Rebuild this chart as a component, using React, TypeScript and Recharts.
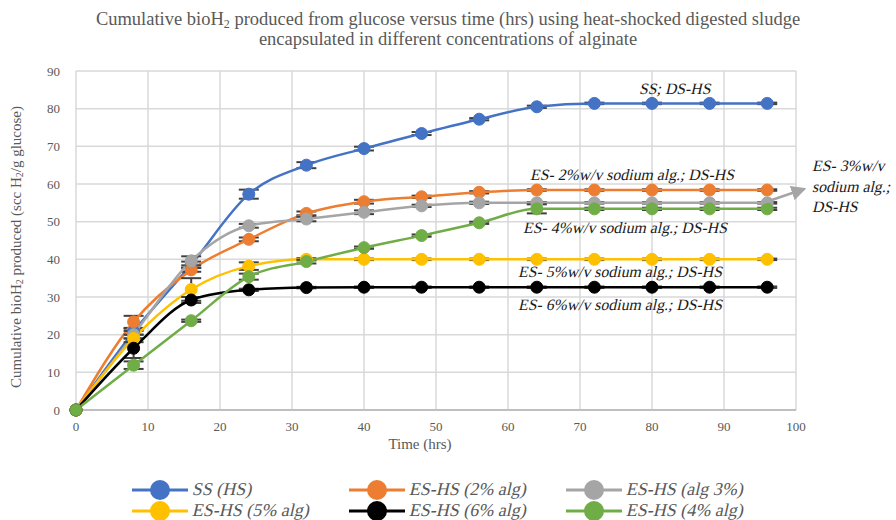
import { LineChart, Line, XAxis, YAxis, CartesianGrid, ErrorBar } from "recharts";

const hours = [0, 8, 16, 24, 32, 40, 48, 56, 64, 72, 80, 88, 96];

const ssHS = [0, 20.8, 38.6, 57.3, 65.0, 69.4, 73.4, 77.2, 80.5, 81.4, 81.4, 81.4, 81.4];
const es2 = [0, 23.4, 37.2, 45.3, 52.2, 55.3, 56.6, 57.8, 58.4, 58.4, 58.4, 58.4, 58.4];
const es3 = [0, 20.0, 39.6, 48.9, 50.7, 52.5, 54.2, 55.0, 55.0, 55.0, 55.0, 55.0, 55.0];
const es5 = [0, 19.0, 32.0, 38.2, 40.0, 40.0, 40.0, 40.0, 40.0, 40.0, 40.0, 40.0, 40.0];
const es6 = [0, 16.4, 29.2, 31.9, 32.5, 32.6, 32.6, 32.6, 32.6, 32.6, 32.6, 32.6, 32.6];
const es4 = [0, 11.9, 23.7, 35.4, 39.4, 43.1, 46.3, 49.7, 53.4, 53.4, 53.4, 53.4, 53.4];

const ssErr = [0, 0.8, 0.8, 1.2, 0.8, 0.5, 0.4, 0.3, 0.3, 0.2, 0.2, 0.2, 0.2];
const es2Err = [0, 1.6, 0.5, 0.5, 0.5, 0.5, 0.3, 0.3, 0.2, 0.2, 0.2, 0.2, 0.2];
const es3Err = [0, 1.0, 1.2, 0.5, 0.6, 0.5, 0.3, 0.3, 0.2, 0.2, 0.2, 0.2, 0.2];
const es5Err = [0, 1.0, 3.0, 1.0, 0.3, 0.2, 0.2, 0.2, 0.2, 0.2, 0.2, 0.2, 0.2];
const es6Err = [0, 2.6, 0.8, 0.3, 0.2, 0.2, 0.2, 0.2, 0.2, 0.2, 0.2, 0.2, 0.2];
const es4Err = [0, 1.0, 0.3, 0.8, 0.5, 0.3, 0.3, 0.3, 1.2, 0.3, 0.3, 0.3, 0.3];

const xTicks = [0, 10, 20, 30, 40, 50, 60, 70, 80, 90, 100];
const yTicks = [0, 10, 20, 30, 40, 50, 60, 70, 80, 90];

const series = [
  { key: "ss", name: "SS (HS)", color: "#4472C4", values: ssHS, err: ssErr },
  { key: "es2", name: "ES-HS (2% alg)", color: "#ED7D31", values: es2, err: es2Err },
  { key: "es3", name: "ES-HS (alg 3%)", color: "#A5A5A5", values: es3, err: es3Err },
  { key: "es5", name: "ES-HS (5% alg)", color: "#FFC000", values: es5, err: es5Err },
  { key: "es6", name: "ES-HS (6% alg)", color: "#000000", values: es6, err: es6Err },
  { key: "es4", name: "ES-HS (4% alg)", color: "#70AD47", values: es4, err: es4Err },
];

const data = hours.map((t, i) => {
  const row: Record<string, number> = { t };
  series.forEach((s) => {
    row[s.key] = s.values[i];
    row[s.key + "Err"] = s.err[i];
  });
  return row;
});

// no serif italic face is installed, so italics are faked with a skew
const FONT = "'Liberation Serif', serif";
const GREY_TEXT = "#595959";
const NOTE_COLOR = "#1a1a1a";

const notes = [
  { text: "SS; DS-HS", x: 639, y: 94 },
  { text: "ES- 2%w/v sodium alg.; DS-HS", x: 530, y: 180 },
  { text: "ES- 4%w/v sodium alg.; DS-HS", x: 523, y: 233 },
  { text: "ES- 5%w/v sodium alg.; DS-HS", x: 518, y: 277 },
  { text: "ES- 6%w/v sodium alg.; DS-HS", x: 518, y: 310 },
  { text: "ES- 3%w/v", x: 812, y: 171 },
  { text: "sodium alg.;", x: 812, y: 192 },
  { text: "DS-HS", x: 812, y: 212 },
];

function Note({ text, x, y }: { text: string; x: number; y: number }) {
  return (
    <text transform={`translate(${x},${y}) skewX(-13)`} fontSize={15.8} fill={NOTE_COLOR} fontFamily={FONT}>
      {text}
    </text>
  );
}

function XTick(props: any) {
  const { x, y, payload } = props;
  return (
    <text x={x} y={y} dy="0.71em" textAnchor="middle" fill={GREY_TEXT} fontSize={13} fontFamily={FONT}>
      {payload.value}
    </text>
  );
}

function YTick(props: any) {
  const { x, y, payload } = props;
  return (
    <text x={x} y={y} dy="0.35em" textAnchor="end" fill={GREY_TEXT} fontSize={13} fontFamily={FONT}>
      {payload.value}
    </text>
  );
}

function LegendItem({ name, color }: { name: string; color: string }) {
  return (
    <div style={{ display: "flex", alignItems: "center", width: 217, height: 21 }}>
      <svg width={58} height={22} style={{ marginRight: 4, flex: "none" }}>
        <line x1={1} y1={11} x2={57} y2={11} stroke={color} strokeWidth={3} />
        <circle cx={29} cy={11} r={10} fill={color} />
      </svg>
      <span style={{ display: "inline-block", transform: "skewX(-13deg)", color: GREY_TEXT, fontSize: 18, whiteSpace: "nowrap", fontFamily: FONT }}>
        {name}
      </span>
    </div>
  );
}

export default function App() {
  return (
    <div style={{ position: "absolute", left: 0, top: 0, width: 896, height: 520, background: "#fff", fontFamily: FONT, overflow: "hidden" }}>
      <div style={{ position: "absolute", left: 0, top: 9, width: 896, textAlign: "center", color: GREY_TEXT, fontSize: 18.5, lineHeight: "20px" }}>
        Cumulative bioH<sub style={{ fontSize: 12, verticalAlign: "-3px", lineHeight: 0 }}>2</sub> produced from glucose versus time (hrs) using heat-shocked digested sludge
        <br />
        encapsulated in different concentrations of alginate
      </div>
      <LineChart width={896} height={520} data={data} margin={{ top: 71, right: 100, bottom: 80, left: 0 }}>
        <CartesianGrid stroke="#D9D9D9" strokeWidth={1.5} />
        <XAxis
          dataKey="t"
          type="number"
          domain={[0, 100]}
          ticks={xTicks}
          height={30}
          tickLine={false}
          axisLine={{ stroke: "#BFBFBF", strokeWidth: 2 }}
          tick={XTick}
          tickMargin={6}
        />
        <YAxis
          type="number"
          domain={[0, 90]}
          ticks={yTicks}
          width={76}
          tickLine={false}
          axisLine={false}
          tick={YTick}
          tickMargin={10}
        />
        {series.map((s) => (
          <Line
            key={s.key}
            dataKey={s.key}
            name={s.name}
            type="monotone"
            stroke={s.color}
            strokeWidth={2.5}
            dot={{ r: 6, fill: s.color, stroke: s.color, strokeWidth: 1 }}
            isAnimationActive={false}
          >
            <ErrorBar dataKey={s.key + "Err"} width={10} stroke="#404040" strokeWidth={2} direction="y" />
          </Line>
        ))}
      </LineChart>
      <svg width={896} height={520} style={{ position: "absolute", left: 0, top: 0, pointerEvents: "none" }}>
        <defs>
          <marker id="arrowHead" markerWidth="6" markerHeight="6" refX="5" refY="3" orient="auto" markerUnits="strokeWidth">
            <path d="M0,0 L6,3 L0,6 Z" fill="#A5A5A5" />
          </marker>
        </defs>
        <text x={18} y={247} transform="rotate(-90 18 247)" textAnchor="middle" dominantBaseline="middle" fill={GREY_TEXT} fontSize={15} fontFamily={FONT}>
          Cumulative bioH<tspan fontSize={10} dy={3}>2</tspan>
          <tspan dy={-3}> produced (scc H</tspan>
          <tspan fontSize={10} dy={3}>2</tspan>
          <tspan dy={-3}>/g glucose)</tspan>
        </text>
        <text x={420} y={449} textAnchor="middle" fill={GREY_TEXT} fontSize={15} fontFamily={FONT}>
          Time (hrs)
        </text>
        {notes.map((n) => (
          <Note key={n.text} text={n.text} x={n.x} y={n.y} />
        ))}
        <line x1={763} y1={203} x2={804} y2={189} stroke="#A5A5A5" strokeWidth={2.5} markerEnd="url(#arrowHead)" />
      </svg>
      <div style={{ position: "absolute", left: 131, top: 479, display: "flex", flexWrap: "wrap", width: 660 }}>
        {series.map((s) => (
          <LegendItem key={s.key} name={s.name} color={s.color} />
        ))}
      </div>
    </div>
  );
}
